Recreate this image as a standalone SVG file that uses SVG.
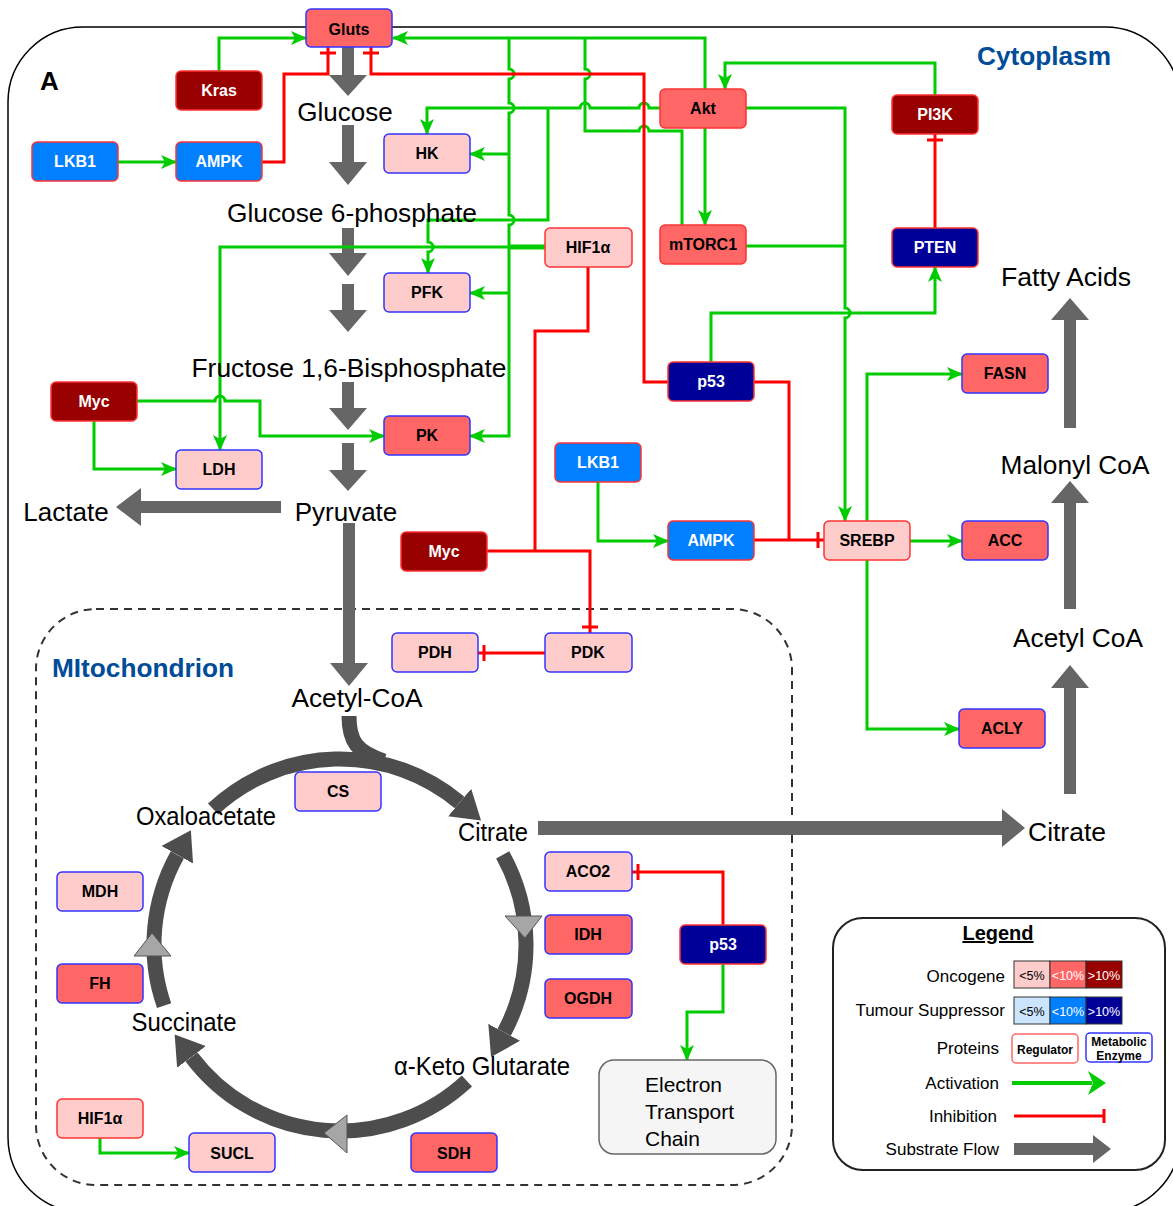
<svg xmlns="http://www.w3.org/2000/svg" width="1173" height="1206" viewBox="0 0 1173 1206">
<style>
.n rect{stroke-width:1.5}
.reg rect{stroke:#FF3333}
.enz rect{stroke:#3333FF}
.c1 rect{fill:#FFCCCC}.c2 rect{fill:#FF6666}.c3 rect{fill:#990000}.b2 rect{fill:#007FFF}.b3 rect{fill:#000099}
.n text{font-family:"Liberation Sans",Arial,sans-serif;font-weight:bold;font-size:16px;text-anchor:middle;fill:#000}
.c3 text,.b2 text,.b3 text{fill:#fff}
.g{fill:none;stroke:#00CC00;stroke-width:3}
.r{fill:none;stroke:#FF0000;stroke-width:3}
.sub{font-family:"Liberation Sans",Arial,sans-serif;font-size:26px;fill:#000;text-anchor:middle}
.flow{fill:#666}
.tca{fill:none;stroke:#4D4D4D;stroke-width:15}
.tri{fill:#A6A6A6;stroke:#555;stroke-width:1}
.comp{font-family:"Liberation Sans",Arial,sans-serif;font-weight:bold;fill:#004C99}
.lg{font-family:"Liberation Sans",Arial,sans-serif;font-size:17px;fill:#000;text-anchor:end}
.pc{font-family:"Liberation Sans",Arial,sans-serif;font-size:12.5px;text-anchor:middle}
</style>
<defs>
<marker id="ga" markerUnits="userSpaceOnUse" markerWidth="16" markerHeight="14" viewBox="0 0 16 14" refX="15" refY="7" orient="auto"><path d="M0,0 L16,7 L0,14 L4,7 z" fill="#00CC00"/></marker>
<marker id="rt" markerUnits="userSpaceOnUse" markerWidth="4" markerHeight="16" viewBox="0 0 4 16" refX="8" refY="8" orient="auto"><path d="M2,0 V16" stroke="#FF0000" stroke-width="3"/></marker>
<marker id="th" markerUnits="userSpaceOnUse" markerWidth="28" markerHeight="36" viewBox="0 0 28 36" refX="0" refY="18" orient="auto"><path d="M0,0 L28,18 L0,36 z" fill="#4D4D4D"/></marker>
</defs>

<!-- compartments -->
<rect x="8" y="27" width="1172" height="1185" rx="75" fill="#fff" stroke="#000" stroke-width="1.5"/>
<rect x="36" y="609" width="756" height="576" rx="60" fill="none" stroke="#333" stroke-width="2" stroke-dasharray="8,6"/>
<text x="40" y="90" font-family="Liberation Sans, Arial, sans-serif" font-weight="bold" font-size="26">A</text>
<text class="comp" x="977" y="65" font-size="25" textLength="134" lengthAdjust="spacingAndGlyphs">Cytoplasm</text>
<text class="comp" x="52" y="677" font-size="25" textLength="182" lengthAdjust="spacingAndGlyphs">MItochondrion</text>

<!-- substrate flow arrows -->
<g id="flows" class="flow">
<polygon points="342,47 354,47 354,75 367,75 348,96 329,75 342,75"/>
<polygon points="342,125 354,125 354,162 367,162 348,185 329,162 342,162"/>
<polygon points="342,228 354,228 354,253 367,253 348,276 329,253 342,253"/>
<polygon points="342,284 354,284 354,310 367,310 348,332 329,310 342,310"/>
<polygon points="342,382 354,382 354,408 367,408 348,430 329,408 342,408"/>
<polygon points="342,443 354,443 354,470 367,470 348,491 329,470 342,470"/>
<polygon points="343,523 355,523 355,663 368,663 349,686 330,663 343,663"/>
<polygon points="281,501 281,513 141,513 141,526 116,507 141,488 141,501"/>
<polygon points="1064,794 1076,794 1076,688 1089,688 1070,665 1051,688 1064,688"/>
<polygon points="1064,609 1076,609 1076,503 1089,503 1070,481 1051,503 1064,503"/>
<polygon points="1064,428 1076,428 1076,320 1089,320 1070,298 1051,320 1064,320"/>
<polygon points="538,821 1002,821 1002,809 1025,828 1002,847 1002,835 538,835"/>
</g>

<!-- TCA cycle -->
<g id="tca">
<path class="tca" d="M349,716 C349,742 357,752 384,761"/>
<path class="tca" marker-end="url(#th)" d="M213.1,809 A186,186 0 0 1 459.6,802.5"/>
<path class="tca" marker-end="url(#th)" d="M502.7,854.8 A186,186 0 0 1 504.2,1032.3"/>
<path class="tca" marker-end="url(#th)" d="M466.9,1081 A186,186 0 0 1 191.5,1056.9"/>
<path class="tca" marker-end="url(#th)" d="M164.1,1005.6 A186,186 0 0 1 177.3,854.8"/>
<polygon class="tri" points="505,916 542,916 525,938"/>
<polygon class="tri" points="134,956 171,956 152,933"/>
<polygon class="tri" points="324,1133 347,1115 347,1153"/>
</g>

<!-- connectors -->
<g id="connectors">
<path class="g" marker-end="url(#ga)" d="M219,71 V38 H306"/>
<path class="g" marker-end="url(#ga)" d="M118,162 H176"/>
<path class="g" marker-end="url(#ga)" d="M705,89 V38 H393"/>
<path class="g" marker-end="url(#ga)" d="M509,38 V69 a5,5 0 0 1 0,10 V103 a5,5 0 0 1 0,10 V215 a5,5 0 0 1 0,10 V436 H470"/>
<path class="g" marker-end="url(#ga)" d="M509,154 H470"/>
<path class="g" marker-end="url(#ga)" d="M509,293 H470"/>
<path class="g" d="M682,225 V131 H649 a5,5 0 0 0 -10,0 H585 V79 a5,5 0 0 0 0,-10 V38"/>
<path class="g" marker-end="url(#ga)" d="M660,108 H649 a5,5 0 0 0 -10,0 H590 a5,5 0 0 0 -10,0 H427 V134"/>
<path class="g" marker-end="url(#ga)" d="M548,108 V220 H428 V242 a5,5 0 0 1 0,10 V273"/>
<path class="g" marker-end="url(#ga)" d="M545,247 H220 V450"/>
<path fill="none" stroke="#00CC00" stroke-width="5" d="M545,247 H509"/>
<path class="g" marker-end="url(#ga)" d="M137,401 H215 a5,5 0 0 1 10,0 H260 V436 H384"/>
<path class="g" marker-end="url(#ga)" d="M94,421 V469 H176"/>
<path class="g" marker-end="url(#ga)" d="M705,128 V225"/>
<path class="g" marker-end="url(#ga)" d="M746,108 H845 V308 a5,5 0 0 1 0,10 V521"/>
<path class="g" d="M746,246 H845"/>
<path class="g" marker-end="url(#ga)" d="M935,95 V63 H725 V89"/>
<path class="g" marker-end="url(#ga)" d="M711,362 V313 H935 V267"/>
<path class="g" marker-end="url(#ga)" d="M598,482 V541 H668"/>
<path class="g" marker-end="url(#ga)" d="M867,521 V374 H962"/>
<path class="g" marker-end="url(#ga)" d="M910,541 H962"/>
<path class="g" marker-end="url(#ga)" d="M867,560 V729 H959"/>
<path class="g" marker-end="url(#ga)" d="M723,964 V1012 H687 V1060"/>
<path class="g" marker-end="url(#ga)" d="M100,1138 V1153 H189"/>
<path class="r" marker-end="url(#rt)" d="M262,162 H284 V74 H328 V47"/>
<path class="r" marker-end="url(#rt)" d="M668,382 H644 V74 H371 V47"/>
<path class="r" marker-end="url(#rt)" d="M935,228 V134"/>
<path class="r" d="M754,382 H789 V540"/>
<path class="r" marker-end="url(#rt)" d="M754,540 H824"/>
<path class="r" d="M588,267 V331 H535 V551"/>
<path class="r" marker-end="url(#rt)" d="M487,551 H590 V633"/>
<path class="r" marker-end="url(#rt)" d="M545,653 H478"/>
<path class="r" marker-end="url(#rt)" d="M723,925 V872 H632"/>
</g>

<!-- substrate labels -->
<g id="substrates">
<text class="sub" x="345" y="121">Glucose</text>
<text class="sub" x="352" y="222" textLength="250" lengthAdjust="spacingAndGlyphs">Glucose 6-phosphate</text>
<text class="sub" x="349" y="377" textLength="315" lengthAdjust="spacingAndGlyphs">Fructose 1,6-Bisphosphate</text>
<text class="sub" x="346" y="521">Pyruvate</text>
<text class="sub" x="66" y="521">Lactate</text>
<text class="sub" x="357" y="707" textLength="131" lengthAdjust="spacingAndGlyphs">Acetyl-CoA</text>
<text class="sub" x="493" y="841" textLength="70" lengthAdjust="spacingAndGlyphs">Citrate</text>
<text class="sub" x="206" y="825" textLength="140" lengthAdjust="spacingAndGlyphs">Oxaloacetate</text>
<text class="sub" x="184" y="1031" textLength="105" lengthAdjust="spacingAndGlyphs">Succinate</text>
<text class="sub" x="482" y="1075" textLength="176" lengthAdjust="spacingAndGlyphs">α-Keto Glutarate</text>
<text class="sub" x="1067" y="841" textLength="78" lengthAdjust="spacingAndGlyphs">Citrate</text>
<text class="sub" x="1078" y="647" textLength="130" lengthAdjust="spacingAndGlyphs">Acetyl CoA</text>
<text class="sub" x="1075" y="474" textLength="149" lengthAdjust="spacingAndGlyphs">Malonyl CoA</text>
<text class="sub" x="1066" y="286" textLength="130" lengthAdjust="spacingAndGlyphs">Fatty Acids</text>
</g>

<!-- nodes -->
<g id="n-gluts" class="n enz c2"><rect x="306" y="9" width="86" height="38" rx="5"/><text x="349" y="35">Gluts</text></g>
<g id="n-kras" class="n reg c3"><rect x="176" y="71" width="86" height="39" rx="5"/><text x="219" y="96">Kras</text></g>
<g id="n-lkb1a" class="n reg b2"><rect x="32" y="142" width="86" height="39" rx="5"/><text x="75" y="167">LKB1</text></g>
<g id="n-ampka" class="n reg b2"><rect x="176" y="142" width="86" height="39" rx="5"/><text x="219" y="167">AMPK</text></g>
<g id="n-hk" class="n enz c1"><rect x="384" y="134" width="86" height="39" rx="5"/><text x="427" y="159">HK</text></g>
<g id="n-pfk" class="n enz c1"><rect x="384" y="273" width="86" height="39" rx="5"/><text x="427" y="298">PFK</text></g>
<g id="n-pk" class="n enz c2"><rect x="384" y="416" width="86" height="39" rx="5"/><text x="427" y="441">PK</text></g>
<g id="n-ldh" class="n enz c1"><rect x="176" y="450" width="86" height="39" rx="5"/><text x="219" y="475">LDH</text></g>
<g id="n-myca" class="n reg c3"><rect x="51" y="382" width="86" height="39" rx="5"/><text x="94" y="407">Myc</text></g>
<g id="n-hif1a" class="n reg c1"><rect x="545" y="228" width="87" height="39" rx="5"/><text x="588" y="253">HIF1α</text></g>
<g id="n-akt" class="n reg c2"><rect x="660" y="89" width="86" height="39" rx="5"/><text x="703" y="114">Akt</text></g>
<g id="n-mtorc1" class="n reg c2"><rect x="660" y="225" width="86" height="39" rx="5"/><text x="703" y="250">mTORC1</text></g>
<g id="n-pi3k" class="n reg c3"><rect x="892" y="95" width="86" height="39" rx="5"/><text x="935" y="120">PI3K</text></g>
<g id="n-pten" class="n reg b3"><rect x="892" y="228" width="86" height="39" rx="5"/><text x="935" y="253">PTEN</text></g>
<g id="n-p53a" class="n reg b3"><rect x="668" y="362" width="86" height="39" rx="5"/><text x="711" y="387">p53</text></g>
<g id="n-lkb1b" class="n reg b2"><rect x="555" y="443" width="86" height="39" rx="5"/><text x="598" y="468">LKB1</text></g>
<g id="n-ampkb" class="n reg b2"><rect x="668" y="521" width="86" height="39" rx="5"/><text x="711" y="546">AMPK</text></g>
<g id="n-srebp" class="n reg c1"><rect x="824" y="521" width="86" height="39" rx="5"/><text x="867" y="546">SREBP</text></g>
<g id="n-fasn" class="n enz c2"><rect x="962" y="354" width="86" height="39" rx="5"/><text x="1005" y="379">FASN</text></g>
<g id="n-acc" class="n enz c2"><rect x="962" y="521" width="86" height="39" rx="5"/><text x="1005" y="546">ACC</text></g>
<g id="n-acly" class="n enz c2"><rect x="959" y="709" width="86" height="39" rx="5"/><text x="1002" y="734">ACLY</text></g>
<g id="n-mycb" class="n reg c3"><rect x="401" y="532" width="86" height="39" rx="5"/><text x="444" y="557">Myc</text></g>
<g id="n-pdh" class="n enz c1"><rect x="392" y="633" width="86" height="39" rx="5"/><text x="435" y="658">PDH</text></g>
<g id="n-pdk" class="n enz c1"><rect x="545" y="633" width="87" height="39" rx="5"/><text x="588" y="658">PDK</text></g>
<g id="n-cs" class="n enz c1"><rect x="295" y="772" width="86" height="39" rx="5"/><text x="338" y="797">CS</text></g>
<g id="n-aco2" class="n enz c1"><rect x="545" y="852" width="87" height="39" rx="5"/><text x="588" y="877">ACO2</text></g>
<g id="n-idh" class="n enz c2"><rect x="545" y="915" width="87" height="39" rx="5"/><text x="588" y="940">IDH</text></g>
<g id="n-ogdh" class="n enz c2"><rect x="545" y="979" width="87" height="39" rx="5"/><text x="588" y="1004">OGDH</text></g>
<g id="n-p53b" class="n reg b3"><rect x="680" y="925" width="86" height="39" rx="5"/><text x="723" y="950">p53</text></g>
<g id="n-mdh" class="n enz c1"><rect x="57" y="872" width="86" height="39" rx="5"/><text x="100" y="897">MDH</text></g>
<g id="n-fh" class="n enz c2"><rect x="57" y="964" width="86" height="39" rx="5"/><text x="100" y="989">FH</text></g>
<g id="n-hif1b" class="n reg c1"><rect x="57" y="1099" width="86" height="39" rx="5"/><text x="100" y="1124">HIF1α</text></g>
<g id="n-sucl" class="n enz c1"><rect x="189" y="1133" width="86" height="39" rx="5"/><text x="232" y="1159">SUCL</text></g>
<g id="n-sdh" class="n enz c2"><rect x="411" y="1133" width="86" height="39" rx="5"/><text x="454" y="1159">SDH</text></g>
<g id="n-etc"><rect x="599" y="1060" width="177" height="94" rx="15" fill="#F5F5F5" stroke="#666" stroke-width="1.5"/>
<text font-family="Liberation Sans, Arial, sans-serif" font-size="21" x="645" y="1092">Electron</text>
<text font-family="Liberation Sans, Arial, sans-serif" font-size="21" x="645" y="1119">Transport</text>
<text font-family="Liberation Sans, Arial, sans-serif" font-size="21" x="645" y="1146">Chain</text></g>

<!-- legend -->
<g id="legend">
<rect x="833" y="918" width="332" height="252" rx="30" fill="#fff" stroke="#222" stroke-width="2"/>
<text x="998" y="940" font-family="Liberation Sans, Arial, sans-serif" font-weight="bold" font-size="20" text-anchor="middle" text-decoration="underline">Legend</text>
<text class="lg" x="1005" y="982">Oncogene</text>
<rect x="1014" y="961" width="36" height="27" fill="#FFCCCC" stroke="#333"/>
<rect x="1050" y="961" width="36" height="27" fill="#FF6666" stroke="#333"/>
<rect x="1086" y="961" width="36" height="27" fill="#990000" stroke="#333"/>
<text class="pc" x="1032" y="980" fill="#000">&lt;5%</text>
<text class="pc" x="1068" y="980" fill="#fff">&lt;10%</text>
<text class="pc" x="1104" y="980" fill="#fff">&gt;10%</text>
<text class="lg" x="1005" y="1016">Tumour Suppressor</text>
<rect x="1014" y="997" width="36" height="27" fill="#CCE5FF" stroke="#333"/>
<rect x="1050" y="997" width="36" height="27" fill="#007FFF" stroke="#333"/>
<rect x="1086" y="997" width="36" height="27" fill="#000099" stroke="#333"/>
<text class="pc" x="1032" y="1016" fill="#000">&lt;5%</text>
<text class="pc" x="1068" y="1016" fill="#fff">&lt;10%</text>
<text class="pc" x="1104" y="1016" fill="#fff">&gt;10%</text>
<text class="lg" x="999" y="1054">Proteins</text>
<rect x="1012" y="1034" width="66" height="29" rx="4" fill="#fff" stroke="#FF6666" stroke-width="1.5"/>
<text x="1045" y="1054" font-family="Liberation Sans, Arial, sans-serif" font-weight="bold" font-size="12" text-anchor="middle">Regulator</text>
<rect x="1086" y="1033" width="66" height="29" rx="4" fill="#fff" stroke="#3333FF" stroke-width="1.5"/>
<text x="1119" y="1046" font-family="Liberation Sans, Arial, sans-serif" font-weight="bold" font-size="12" text-anchor="middle">Metabolic</text>
<text x="1119" y="1060" font-family="Liberation Sans, Arial, sans-serif" font-weight="bold" font-size="12" text-anchor="middle">Enzyme</text>
<text class="lg" x="999" y="1089">Activation</text>
<path d="M1012,1083 H1092" stroke="#00CC00" stroke-width="4"/>
<polygon points="1088,1071 1106,1083 1088,1095 1093,1083" fill="#00CC00"/>
<text class="lg" x="997" y="1122">Inhibition</text>
<path d="M1014,1116 H1104 M1104,1109 V1123" stroke="#FF0000" stroke-width="3" fill="none"/>
<text class="lg" x="999" y="1155">Substrate Flow</text>
<polygon points="1014,1143 1093,1143 1093,1135 1111,1149 1093,1163 1093,1155 1014,1155" fill="#666"/>
</g>
</svg>
